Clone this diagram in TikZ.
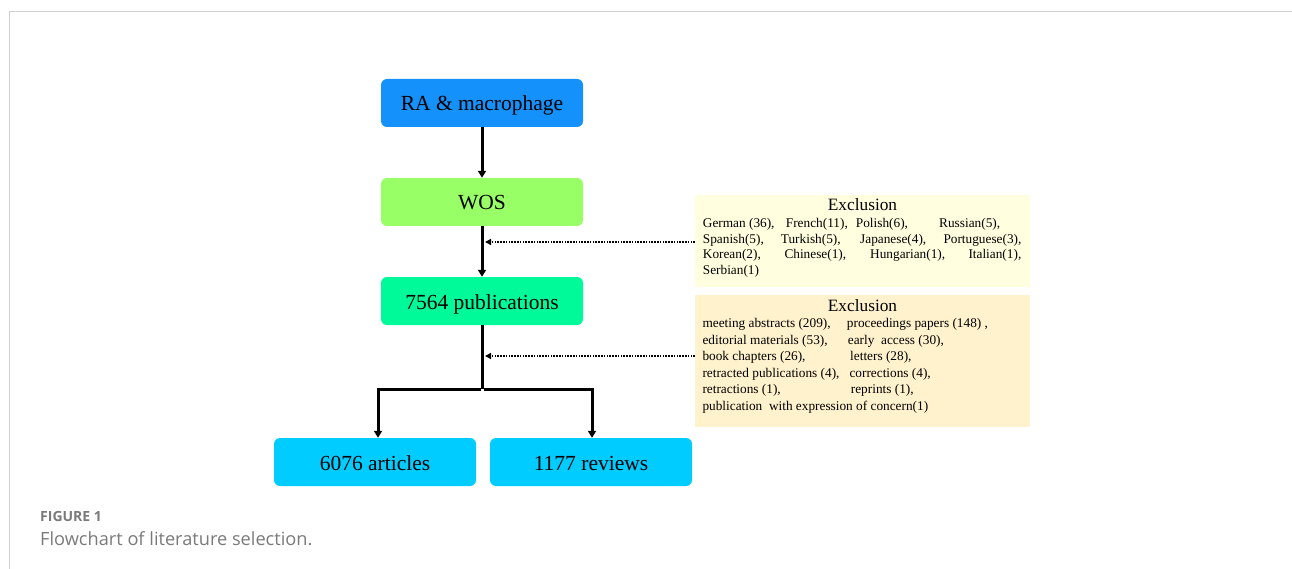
\documentclass[tikz,border=0pt]{standalone}
\usepackage{fontspec}
\setmainfont{Liberation Serif}
\newfontfamily\capfont{Open Sans}
\usetikzlibrary{arrows.meta}
\definecolor{raC}{HTML}{1591FB}
\definecolor{wosC}{HTML}{99FF66}
\definecolor{pubC}{HTML}{00FA9A}
\definecolor{botC}{HTML}{00CCFF}
\definecolor{ex1C}{HTML}{FFFFE0}
\definecolor{ex2C}{HTML}{FFF2CC}
\definecolor{capC}{HTML}{7A7A7A}
\definecolor{frameC}{HTML}{D0D0D0}
\tikzset{
  mainbox/.style={rounded corners=6pt, minimum width=202pt, minimum height=48pt, inner sep=0pt, text height=18pt, text depth=2pt, font=\fontsize{21.5}{24}\selectfont},
  exbox/.style={minimum width=335pt, inner sep=0pt},
  extitle/.style={inner sep=0pt, anchor=base, font=\fontsize{17.3}{20}\selectfont},
  exline/.style={inner sep=0pt, anchor=base west, font=\fontsize{13.3}{16}\selectfont},
  flow/.style={line width=3pt, -{Triangle[length=7pt,width=8pt]}},
  flowline/.style={line width=3pt},
  dotarrow/.style={line width=1.6pt, dash pattern=on 1.6pt off 1.2pt, -{Triangle[length=6pt,width=6pt]}, shorten >=3pt}
}
\newcommand{\cl}[2]{\makebox[#1pt][l]{#2}}
\begin{document}
\begin{tikzpicture}[x=1pt,y=-1pt]
\useasboundingbox (0,0) rectangle (1292,569);
\draw[frameC, line width=1.5pt] (9.5,569) -- (9.5,11.5) -- (1292,11.5);

% main boxes
\node[mainbox, fill=raC] (ra) at (482,103) {RA \& macrophage};
\node[mainbox, fill=wosC] (wos) at (482,202) {WOS};
\node[mainbox, fill=pubC] (pub) at (482,301) {7564 publications};
\node[mainbox, fill=botC] (art) at (375,462) {6076 articles};
\node[mainbox, fill=botC] (rev) at (591,462) {1177 reviews};

% exclusion boxes
\node[exbox, fill=ex1C, minimum height=92pt] (ex1) at (862.5,241) {};
\node[exbox, fill=ex2C, minimum height=132pt] (ex2) at (862.5,361) {};

\node[extitle] (ex1t) at (862.5,211) {Exclusion};
\node[exline] (ex1a) at (702.7,227.5) {\cl{83}{German (36),}\cl{70}{French(11),}\cl{83.3}{Polish(6),}Russian(5),};
\node[exline] (ex1b) at (702.7,243.2) {\cl{78}{Spanish(5),}\cl{79.3}{Turkish(5),}\cl{83.3}{Japanese(4),}Portuguese(3),};
\node[exline] (ex1c) at (702.7,258.9) {\cl{81.6}{Korean(2),}\cl{85.7}{Chinese(1),}\cl{98.3}{Hungarian(1),}Italian(1),};
\node[exline] (ex1d) at (702.7,274.6) {Serbian(1)};

\node[extitle] (ex2t) at (862.5,311) {Exclusion};
\node[exline] (ex2a) at (702.3,327.5) {\cl{144.4}{meeting abstracts (209),}proceedings papers (148) ,};
\node[exline] (ex2b) at (702.3,344) {\cl{145.4}{editorial materials (53),}early\ \ access (30),};
\node[exline] (ex2c) at (702.3,360.5) {\cl{147.7}{book chapters (26),}letters (28),};
\node[exline] (ex2d) at (702.3,377) {\cl{147}{retracted publications (4),}corrections (4),};
\node[exline] (ex2e) at (702.3,393.5) {\cl{148.4}{retractions (1),}reprints (1),};
\node[exline] (ex2f) at (702.3,410) {publication\ \ with expression of concern(1)};

% connectors
\draw[flow] (ra) -- (wos);
\draw[flow] (wos) -- (pub);
\coordinate (j) at (482,389);
\draw[flowline] (pub.south) -- (j);
\draw[flow] ([xshift=1.5pt]j) -| ([xshift=1pt]rev.north);
\draw[flow] ([xshift=-1.5pt]j) -| ([xshift=3pt]art.north);

\coordinate (d1) at (695,242);
\coordinate (d2) at (695,356);
\draw[dotarrow] (d1) -- (d1 -| wos.south);
\draw[dotarrow] (d2) -- (d2 -| pub.south);

% caption
\node[inner sep=0pt, anchor=base west, text=capC, font=\capfont\fontsize{14}{16}\selectfont\bfseries] (figlab) at (40,521) {FIGURE 1};
\node[inner sep=0pt, anchor=base west, text=capC, font=\capfont\fontsize{18.2}{21}\selectfont] (figcap) at (40,545) {Flowchart of literature selection.};
\end{tikzpicture}
\end{document}
